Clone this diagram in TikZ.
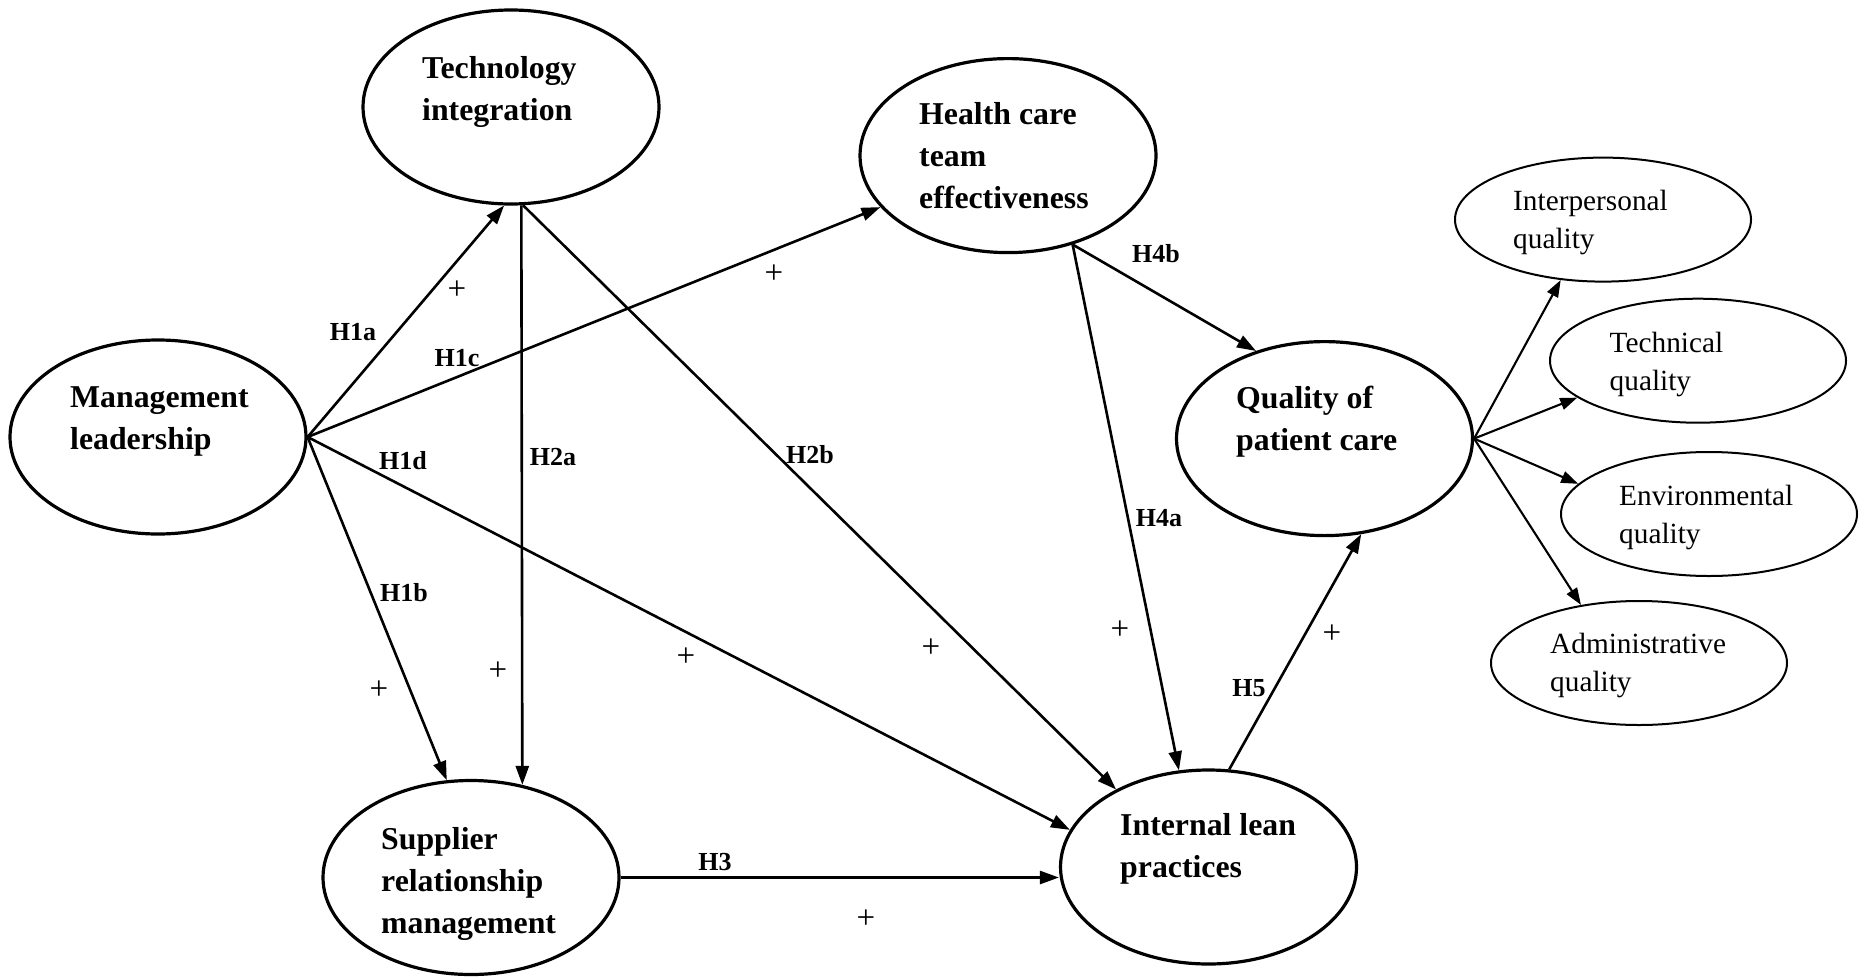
\documentclass[tikz,border=0pt]{standalone}
\usepackage{fontspec}
\setmainfont{Liberation Serif}
\usetikzlibrary{arrows.meta,shapes.geometric}
\begin{document}
\begin{tikzpicture}[x=1pt,y=-1pt,
  big/.style={draw, ellipse, line width=3.2pt, minimum width=296pt, minimum height=194pt, inner sep=0pt},
  small/.style={draw, ellipse, line width=2pt, minimum width=296pt, minimum height=124pt, inner sep=0pt},
  btxt/.style={anchor=north west, inner sep=0pt, align=left, font=\fontsize{31.8}{42}\selectfont\bfseries},
  stxt/.style={anchor=north west, inner sep=0pt, align=left, font=\fontsize{29.3}{38}\selectfont},
  hlab/.style={inner sep=0pt, font=\fontsize{26}{30}\selectfont\bfseries},
  plus/.style={inner sep=0pt, font=\fontsize{33}{36}\selectfont},
  arr/.style={line width=2.6pt, -{Triangle[length=19pt,width=13pt]}},
  sarr/.style={line width=2.1pt, -{Triangle[length=17pt,width=12pt]}}
]
\useasboundingbox[fill=white] (0,0) rectangle (1865,977);

% main constructs
\node[big] (tech) at (511,107) {};
\node[big] (mgmt) at (158,437) {};
\node[big] (supp) at (471,877.5) {};
\node[big] (hcte) at (1008,155.6) {};
\node[big] (qpc)  at (1324.5,438.6) {};
\node[big] (ilp)  at (1208.5,867) {};

\node[btxt] (tech-t) at (422,56) {Technology\\integration};
\node[btxt] (mgmt-t) at (70,386) {Management\\leadership};
\node[btxt] (supp-t) at (381,827) {Supplier\\relationship\\management};
\node[btxt] (hcte-t) at (919,102.6) {Health care\\team\\effectiveness};
\node[btxt] (qpc-t)  at (1236,386) {Quality of\\patient care};
\node[btxt] (ilp-t)  at (1120,813) {Internal lean\\practices};

% quality dimensions
\node[small] (inter) at (1603,219.6) {};
\node[small] (techq) at (1698,360.7) {};
\node[small] (envq)  at (1709,514) {};
\node[small] (admq)  at (1639,663) {};

\node[stxt] (inter-t) at (1513,190) {Interpersonal\\quality};
\node[stxt] (techq-t) at (1609.5,332) {Technical\\quality};
\node[stxt] (envq-t)  at (1619,485) {Environmental\\quality};
\node[stxt] (admq-t)  at (1550,633) {Administrative\\quality};

% hypotheses
\draw[arr] (mgmt.east) -- (tech.266.5);
\draw[arr] (mgmt.east) -- (hcte.202.4);
\draw[arr] (mgmt.east) -- (ilp.165.9);
\draw[arr] (mgmt.east) -- (supp.104.5);
\draw[arr] (tech.276) -- (supp.61.5);
\draw[arr] (tech.277) -- (ilp.140.3);
\draw[arr] (supp.east) -- (supp.east -| ilp.west);
\draw[arr] (hcte.306) -- (qpc.128.5);
\draw[arr] (hcte.306) -- (ilp.107.5);
\draw[arr] (ilp.78.9) -- (qpc.291.1);

\draw[sarr] (qpc.east) -- (inter.235.8);
\draw[sarr] (qpc.east) -- (techq.197.8);
\draw[sarr] (qpc.east) -- (envq.167.2);
\draw[sarr] (qpc.east) -- (admq.135.2);

% labels
\node[hlab] (l1a) at (353,332) {H1a};
\node[plus] (p1a) at (457,290) {+};
\node[hlab] (l1c) at (457,358) {H1c};
\node[plus] (p1c) at (774,274) {+};
\node[hlab] (l1d) at (403,461) {H1d};
\node[plus] (p1d) at (686,657) {+};
\node[hlab] (l1b) at (404,593) {H1b};
\node[plus] (p1b) at (379,690) {+};
\node[hlab] (l2a) at (553,457) {H2a};
\node[plus] (p2a) at (498,671) {+};
\node[hlab] (l2b) at (810,455) {H2b};
\node[plus] (p2b) at (931,648) {+};
\node[hlab] (l3)  at (715,862) {H3};
\node[plus] (p3)  at (866,919) {+};
\node[hlab] (l4b) at (1156,254) {H4b};
\node[hlab] (l4a) at (1159,518) {H4a};
\node[plus] (p4a) at (1120,630) {+};
\node[hlab] (l5)  at (1249,688) {H5};
\node[plus] (p5)  at (1332,634) {+};
\end{tikzpicture}
\end{document}
